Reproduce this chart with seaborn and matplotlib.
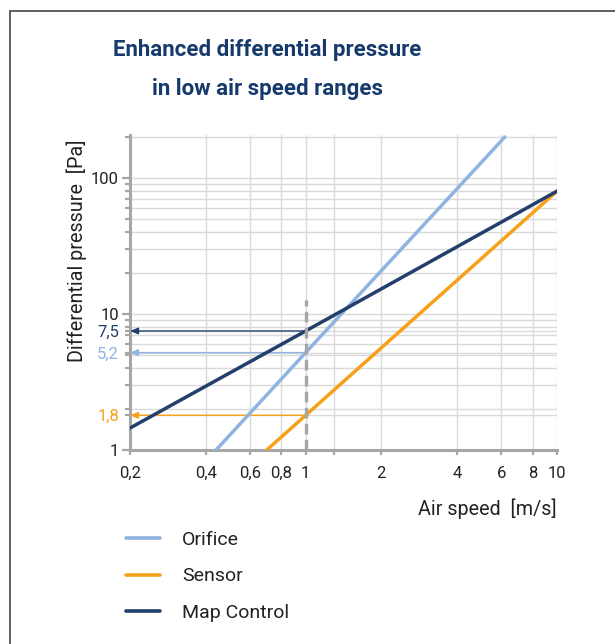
import numpy as np
import pandas as pd
import matplotlib
matplotlib.use('Agg')
import matplotlib.pyplot as plt
import seaborn as sns
from matplotlib.patches import Rectangle
from matplotlib.ticker import LogLocator, NullLocator, FixedLocator, NullFormatter

# values
orifice_speed = [0.44, 1, 6.2]
orifice_dp = [1.0, 5.2, 200]
sensor_speed = [0.70, 1, 10]
sensor_dp = [1.0, 1.8, 80]
map_speed = [0.2, 1, 10]
map_dp = [1.45, 7.5, 80]

series_names = ['Orifice', 'Sensor', 'Map Control']
series_colors = ['#8fb4e0', '#f7a11a', '#233f6c']

# readings at 1 m/s
ref_speed = 1.0
ref_values = [5.2, 1.8, 7.5]
ref_labels = ['5,2', '1,8', '7,5']
dash_top = 12.6

x_ticks = [0.2, 0.4, 0.6, 0.8, 1, 1.3, 2, 4, 6, 8, 10]
x_labels = ['0,2', '0,4', '0,6', '0,8', '1', '', '2', '4', '6', '8', '10']
y_ticks = [1, 10, 100]
y_labels = ['1', '10', '100']

df = pd.concat([
    pd.DataFrame({'speed': orifice_speed, 'dp': orifice_dp, 'series': 'Orifice'}),
    pd.DataFrame({'speed': sensor_speed, 'dp': sensor_dp, 'series': 'Sensor'}),
    pd.DataFrame({'speed': map_speed, 'dp': map_dp, 'series': 'Map Control'}),
])

sns.set_style('white')
plt.rcParams['font.family'] = ['Roboto', 'DejaVu Sans']

fig = plt.figure(figsize=(6.15, 6.44), dpi=100)
ax = fig.add_axes([130 / 615, 1 - 450 / 644, 427 / 615, 315 / 644])

sns.lineplot(data=df, x='speed', y='dp', hue='series', hue_order=series_names,
             palette=series_colors, linewidth=2.5, ax=ax, zorder=4,
             estimator=None, sort=False)

ax.set_xscale('log')
ax.set_yscale('log')
ax.set_xlim(0.2, 10)
ax.set_ylim(1, 207)

# dashed marker at 1 m/s
ax.plot([ref_speed, ref_speed], [1, dash_top], color='#a6a6a6', lw=2.4,
        dashes=(3.2, 1.6), zorder=5, clip_on=False)

# reading arrows to the y axis
for val, col in zip(ref_values, series_colors):
    ax.annotate('', xy=(0.2, val), xytext=(ref_speed, val),
                arrowprops=dict(arrowstyle='-|>,head_length=0.6,head_width=0.25',
                                mutation_scale=8, color=col, lw=1.0,
                                shrinkA=0, shrinkB=0),
                zorder=3)

# ticks and grid
ax.xaxis.set_major_locator(FixedLocator(x_ticks))
ax.xaxis.set_minor_locator(NullLocator())
ax.set_xticklabels(x_labels)
ax.yaxis.set_major_locator(FixedLocator(y_ticks + ref_values))
ax.set_yticklabels(y_labels + ref_labels)
ax.yaxis.set_minor_locator(LogLocator(base=10, subs=np.arange(2, 10)))
ax.yaxis.set_minor_formatter(NullFormatter())

ax.tick_params(axis='y', which='major', length=6, width=1.6, color='#a6a6a6',
               labelsize=12, labelcolor='#222222', pad=2, left=True)
ax.tick_params(axis='y', which='minor', length=3.5, width=1.6, color='#a6a6a6', left=True)
ax.tick_params(axis='x', which='major', length=3.5, width=1.6, color='#a6a6a6',
               labelsize=12, labelcolor='#222222', pad=8, bottom=True)
for lbl, col in zip(ax.get_yticklabels()[3:], series_colors):
    lbl.set_color(col)
for t in ax.yaxis.get_major_ticks()[3:]:
    t.tick1line.set_markersize(3.5)

ax.grid(which='major', axis='x', color='#dadada', lw=1.0)
ax.grid(which='both', axis='y', color='#dadada', lw=1.0)
ax.set_axisbelow(True)

sns.despine(ax=ax)
for s in ['left', 'bottom']:
    ax.spines[s].set_color('#a6a6a6')
    ax.spines[s].set_linewidth(2.2)

ax.set_xlabel('Air speed  [m/s]', fontsize=14.2, color='#222222', loc='right')
ax.xaxis.set_label_coords(1.0, -0.155)
ax.set_ylabel('Differential pressure  [Pa]', fontsize=14.2, color='#222222')
ax.yaxis.label.set_va('center')
ax.yaxis.set_label_coords(-0.124, 0.632)

# legend below the plot
ax.legend(loc='upper left', bbox_to_anchor=(126 / 615, 1 - 531 / 644),
          bbox_transform=fig.transFigure, frameon=False, fontsize=14,
          handlelength=1.75, handletextpad=1.13, labelspacing=0.95,
          borderpad=0, borderaxespad=0)
for t in ax.get_legend().get_texts():
    t.set_color('#222222')
for h in ax.get_legend().get_lines():
    h.set_linewidth(2.6)

# title
fig.text(267 / 615, 1 - 56 / 644, 'Enhanced differential pressure', ha='center',
         va='baseline', fontsize=16, fontweight='bold', color='#163a6b')
fig.text(267 / 615, 1 - 95 / 644, 'in low air speed ranges', ha='center',
         va='baseline', fontsize=16, fontweight='bold', color='#163a6b')

# outer frame
fig.patches.append(Rectangle((10 / 615, -0.5), 2, 0.5 + 1 - 11 / 644,
                             transform=fig.transFigure, fill=False,
                             edgecolor='#444444', lw=1.2))

plt.savefig('out.png', dpi=100)
